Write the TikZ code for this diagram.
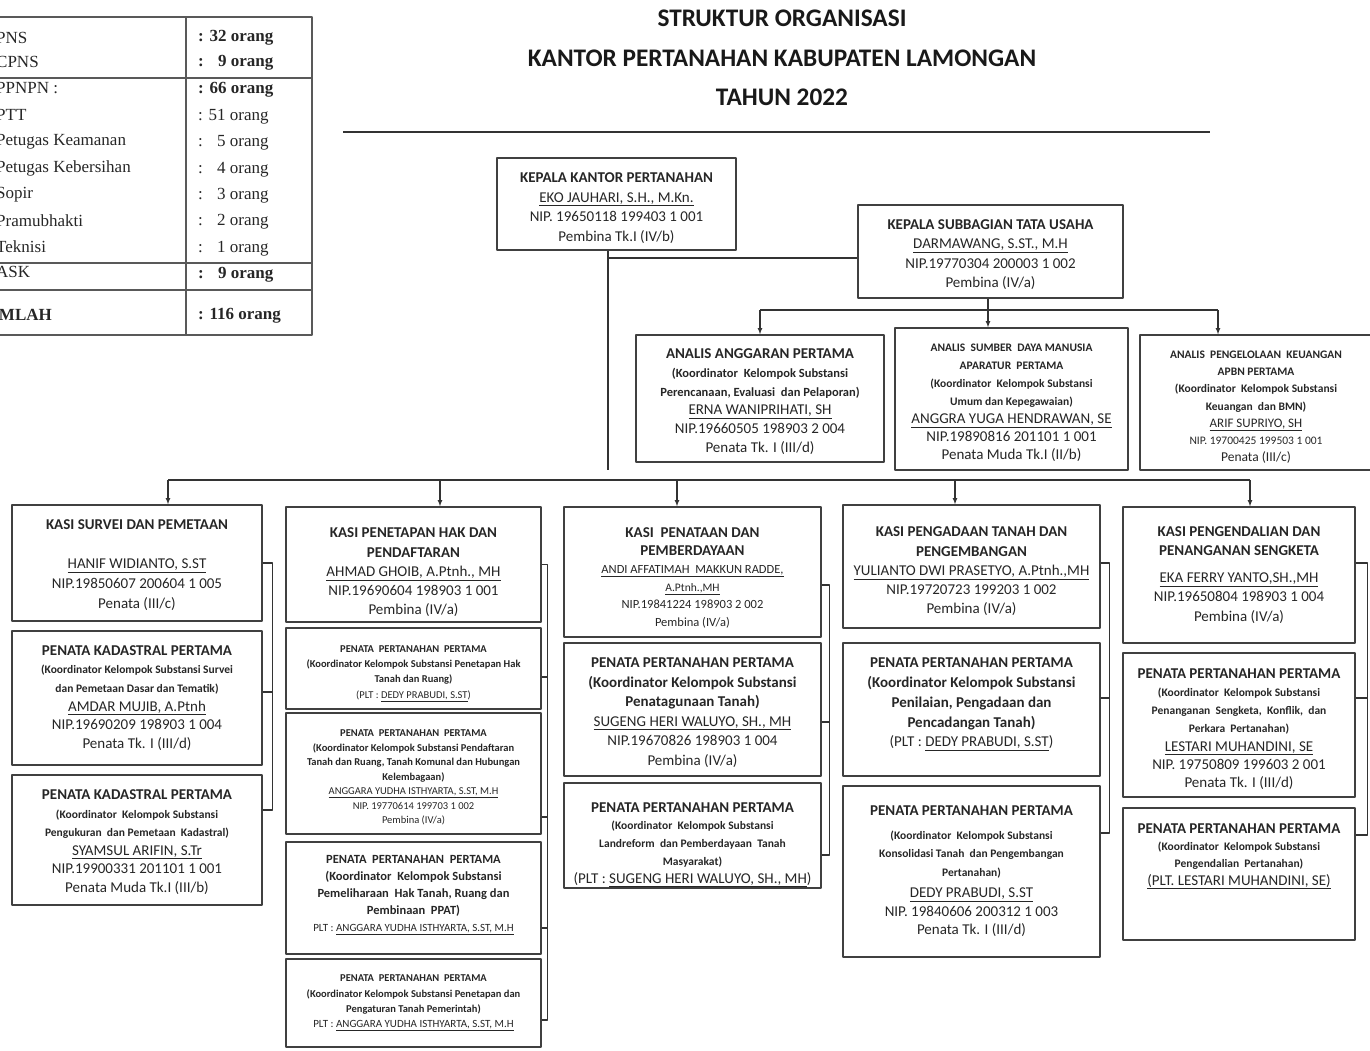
\documentclass[tikz,border=0pt]{standalone}
\usepackage{fontspec}
\setmainfont{Carlito}
\newfontfamily\fonttabel{Liberation Serif}
\newcommand{\kecil}[1]{{\fontsize{12.5}{16}\selectfont\bfseries #1}}
\newcommand{\renik}[1]{{\fontsize{11.5}{14}\selectfont\bfseries #1}}
\newcommand{\turun}[1]{\rule{0pt}{#1}}
\begin{document}
\begin{tikzpicture}[x=1pt,y=-1pt,line join=round,
	kotak/.style={draw=black!75,line width=1.4pt,align=center,inner sep=1pt,text=black!85,font=\fontsize{15}{19.5}\selectfont},
	uk/.style 2 args={minimum width=#1,minimum height=#2},
	garis/.style={black!80,line width=1.1pt},
	panah/.style={garis,-latex},
	sel/.style={anchor=west,inner sep=0pt,text=black!85,font=\fonttabel\fontsize{17}{17}\selectfont}]
	\useasboundingbox (0,0) rectangle (1370,1050);
	\clip (0,0) rectangle (1370,1050);
	
	% tabel jumlah pegawai
	\draw[black!65,line width=1.2pt] (-10,17) rectangle (312,335);
	\draw[black!65,line width=1.2pt] (186,17) -- (186,335);
	\foreach \y in {78,263,290}
	\draw[black!65,line width=1.2pt] (-10,\y) -- (312,\y);
	\foreach \t/\y [count=\i] in {PNS/38,CPNS/62,PPNPN :/88,PTT/115,Petugas Keamanan/142,Petugas Kebersihan/168,Sopir/195,Pramubhakti/221,Teknisi/247,ASK/272}{
		\node[sel] (lbl\i) at (-4,\y) {\t};
	}
	\node[sel,font=\fonttabel\bfseries\fontsize{17}{17}\selectfont] (lbl11) at (-22,315) {JUMLAH};
	\foreach \t/\y/\f [count=\i] in {32 orang/38/\bfseries,\hphantom{3}9 orang/63/\bfseries,66 orang/90/\bfseries,51 orang/117/\mdseries,\hphantom{3}5 orang/143/\mdseries,\hphantom{3}4 orang/170/\mdseries,\hphantom{3}3 orang/196/\mdseries,\hphantom{3}2 orang/222/\mdseries,\hphantom{3}1 orang/249/\mdseries,\hphantom{3}9 orang/275/\bfseries,116 orang/316/\bfseries}{
		\node[sel] (jml\i) at (198,\y) {\f : \t};
	}
	
	% judul
	\node[font=\bfseries\fontsize{25.3}{39.5}\selectfont,align=center,text=black!90] (judul) at (782,58) {STRUKTUR ORGANISASI\\KANTOR PERTANAHAN KABUPATEN LAMONGAN\\TAHUN 2022};
	\draw[black!80,line width=2pt] (343,132) -- (1210,132);
	
	% pimpinan
	\node[kotak,uk={239}{92}] (kakan) at (616.5,204) {\turun{18pt}\textbf{KEPALA KANTOR PERTANAHAN}\\\underline{EKO JAUHARI, S.H., M.Kn.}\\NIP. 19650118 199403 1 001\\Pembina Tk.I (IV/b)};
	\node[kotak,uk={265}{93}] (kasubag) at (990.5,251.5) {\turun{16pt}\textbf{KEPALA SUBBAGIAN TATA USAHA}\\\underline{DARMAWANG, S.ST., M.H}\\NIP.19770304 200003 1 002\\Pembina (IV/a)};
	
	% analis
	\node[kotak,uk={248}{127},font=\fontsize{15}{18.8}\selectfont] (ang) at (760,398.5) {\turun{16pt}\textbf{ANALIS ANGGARAN PERTAMA}\\\kecil{(Koordinator\ \ Kelompok Substansi}\\\kecil{Perencanaan, Evaluasi\ \ dan Pelaporan)}\\\underline{ERNA WANIPRIHATI, SH}\\NIP.19660505 198903 2 004\\Penata Tk. I (III/d)};
	\node[kotak,uk={233}{142},font=\fontsize{15}{18}\selectfont] (sdm) at (1011.5,399) {\renik{\turun{15pt}ANALIS\ \ SUMBER\ \ DAYA MANUSIA}\\\renik{APARATUR\ \ PERTAMA}\\\renik{(Koordinator\ \ Kelompok Substansi}\\\renik{Umum dan Kepegawaian)}\\\underline{ANGGRA YUGA HENDRAWAN, SE}\\NIP.19890816 201101 1 001\\Penata Muda Tk.I (II/b)};
	\node[kotak,uk={232}{135},font=\fontsize{13.5}{17.2}\selectfont] (apbn) at (1256,402.5) {\renik{\turun{17pt}ANALIS\ \ PENGELOLAAN\ \ KEUANGAN}\\\renik{APBN PERTAMA}\\\renik{(Koordinator\ \ Kelompok Substansi}\\\renik{Keuangan\ \ dan BMN)}\\{\fontsize{13}{14}\selectfont\underline{ARIF SUPRIYO, SH}}\\{\fontsize{11.5}{12}\selectfont NIP. 19700425 199503 1 001}\\Penata (III/c)};
	
	% kolom survei
	\node[kotak,uk={250}{116},font=\fontsize{15}{19.75}\selectfont] (survei) at (137,563) {\turun{14pt}\textbf{KASI SURVEI DAN PEMETAAN}\\[19.75pt]\underline{HANIF WIDIANTO, S.ST}\\NIP.19850607 200604 1 005\\Penata (III/c)};
	\node[kotak,uk={250}{134},font=\fontsize{15}{18.6}\selectfont] (kadas1) at (137,698) {\textbf{PENATA KADASTRAL PERTAMA}\\\renik{(Koordinator Kelompok Substansi Survei}\\\renik{dan Pemetaan Dasar dan Tematik)}\\\underline{AMDAR MUJIB, A.Ptnh}\\NIP.19690209 198903 1 004\\Penata Tk. I (III/d)};
	\node[kotak,uk={250}{130},font=\fontsize{15}{18.6}\selectfont] (kadas2) at (137,840) {\turun{14pt}\textbf{PENATA KADASTRAL PERTAMA}\\\renik{(Koordinator\ \ Kelompok Substansi}\\\renik{Pengukuran\ \ dan Pemetaan\ \ Kadastral)}\\\underline{SYAMSUL ARIFIN, S.Tr}\\NIP.19900331 201101 1 001\\Penata Muda Tk.I (III/b)};
	
	% kolom penetapan hak
	\node[kotak,uk={255}{115},font=\fontsize{15}{19.25}\selectfont] (hak) at (413.5,564.5) {\turun{26pt}\textbf{KASI PENETAPAN HAK DAN}\\\textbf{PENDAFTARAN}\\\underline{AHMAD GHOIB, A.Ptnh., MH}\\NIP.19690604 198903 1 001\\Pembina (IV/a)};
	\node[kotak,uk={255}{81},font=\fontsize{10.5}{15.3}\selectfont] (hak1) at (413.5,668.5) {\turun{17pt}\textbf{PENATA\ \ PERTANAHAN\ \ PERTAMA}\\\textbf{(Koordinator Kelompok Substansi Penetapan Hak}\\\textbf{Tanah dan Ruang)}\\(PLT : \underline{DEDY PRABUDI, S.ST})};
	\node[kotak,uk={255}{121},font=\fontsize{10.5}{14.5}\selectfont] (daftar) at (413.5,773.5) {\turun{15pt}\textbf{PENATA\ \ PERTANAHAN\ \ PERTAMA}\\\textbf{(Koordinator Kelompok Substansi Pendaftaran}\\\textbf{Tanah dan Ruang, Tanah Komunal dan Hubungan}\\\textbf{Kelembagaan)}\\\underline{ANGGARA YUDHA ISTHYARTA, S.ST, M.H}\\NIP. 19770614 199703 1 002\\Pembina (IV/a)};
	\node[kotak,uk={255}{112},font=\fontsize{12.5}{17}\selectfont,text depth=9pt] (pelihara) at (413.5,898) {\textbf{PENATA\ \ PERTANAHAN\ \ PERTAMA}\\\textbf{(Koordinator\ \ Kelompok Substansi}\\\textbf{Pemeliharaan\ \ Hak Tanah, Ruang dan}\\\textbf{Pembinaan\ \ PPAT)}\\{\fontsize{11}{12}\selectfont PLT : \underline{ANGGARA YUDHA ISTHYARTA, S.ST, M.H}}};
	\node[kotak,uk={255}{88},font=\fontsize{10.5}{15.3}\selectfont] (pemerintah) at (413.5,1003) {\textbf{PENATA\ \ PERTANAHAN\ \ PERTAMA}\\\textbf{(Koordinator Kelompok Substansi Penetapan dan}\\\textbf{Pengaturan Tanah Pemerintah)}\\{\fontsize{11}{12}\selectfont PLT : \underline{ANGGARA YUDHA ISTHYARTA, S.ST, M.H}}};
	
	% kolom penataan
	\node[kotak,uk={257}{130},font=\fontsize{15}{17.8}\selectfont] (tata) at (692.5,572) {\turun{22pt}\textbf{KASI\ \ PENATAAN DAN}\\\textbf{PEMBERDAYAAN}\\{\fontsize{12.5}{12}\selectfont\underline{ANDI AFFATIMAH\ \ MAKKUN RADDE,}}\\{\fontsize{11.5}{12}\selectfont\underline{A.Ptnh.,MH}}\\{\fontsize{12.5}{12}\selectfont NIP.19841224 198903 2 002}\\{\fontsize{12.5}{12}\selectfont Pembina (IV/a)}};
	\node[kotak,uk={257}{133},font=\fontsize{15}{19.6}\selectfont] (guna) at (692.5,709.5) {\turun{16pt}\textbf{PENATA PERTANAHAN PERTAMA}\\\textbf{(Koordinator Kelompok Substansi}\\\textbf{Penatagunaan Tanah)}\\\underline{SUGENG HERI WALUYO, SH., MH}\\NIP.19670826 198903 1 004\\Pembina (IV/a)};
	\node[kotak,uk={257}{99},font=\fontsize{11.5}{17.75}\selectfont] (landreform) at (692.5,835.5) {{\fontsize{15}{14}\selectfont\turun{28pt}\textbf{PENATA PERTANAHAN PERTAMA}}\\\textbf{(Koordinator\ \ Kelompok Substansi}\\\textbf{Landreform\ \ dan Pemberdayaan\ \ Tanah}\\\textbf{Masyarakat)}\\{\fontsize{15}{14}\selectfont(PLT : \underline{SUGENG HERI WALUYO, SH., MH})}};
	
	% kolom pengadaan
	\node[kotak,uk={257}{123},font=\fontsize{15}{19.25}\selectfont] (adaan) at (971.5,566.5) {\turun{20pt}\textbf{KASI PENGADAAN TANAH DAN}\\\textbf{PENGEMBANGAN}\\\underline{YULIANTO DWI PRASETYO, A.Ptnh.,MH}\\NIP.19720723 199203 1 002\\Pembina (IV/a)};
	\node[kotak,uk={257}{133},font=\fontsize{15}{19.75}\selectfont,text depth=14pt] (nilai) at (971.5,709.5) {\textbf{PENATA PERTANAHAN PERTAMA}\\\textbf{(Koordinator Kelompok Substansi}\\\textbf{Penilaian, Pengadaan dan}\\\textbf{Pencadangan Tanah)}\\(PLT : \underline{DEDY PRABUDI, S.ST})};
	\node[kotak,uk={257}{171},font=\fontsize{15}{18.5}\selectfont] (konsolidasi) at (971.5,871.5) {\textbf{PENATA PERTANAHAN PERTAMA}\\[5pt]\renik{(Koordinator\ \ Kelompok Substansi}\\\renik{Konsolidasi Tanah\ \ dan Pengembangan}\\\renik{Pertanahan)}\\[3pt]\underline{DEDY PRABUDI, S.ST}\\NIP. 19840606 200312 1 003\\Penata Tk. I (III/d)};
	
	% kolom pengendalian
	\node[kotak,uk={232}{136},font=\fontsize{15}{19.5}\selectfont] (sengketa) at (1239,575) {\textbf{KASI PENGENDALIAN DAN}\\\textbf{PENANGANAN SENGKETA}\\[7pt]\underline{EKA FERRY YANTO,SH.,MH}\\NIP.19650804 198903 1 004\\Pembina (IV/a)};
	\node[kotak,uk={232}{144},font=\fontsize{15}{18.3}\selectfont] (konflik) at (1239,725) {\turun{18pt}\textbf{PENATA PERTANAHAN PERTAMA}\\\renik{(Koordinator\ \ Kelompok Substansi}\\\renik{Penanganan\ \ Sengketa,\ \ Konflik,\ \ dan}\\\renik{Perkara\ \ Pertanahan)}\\\underline{LESTARI MUHANDINI, SE}\\NIP. 19750809 199603 2 001\\Penata Tk. I (III/d)};
	\node[kotak,uk={232}{132},font=\fontsize{15}{17.3}\selectfont] (kendali) at (1239,874) {\textbf{PENATA PERTANAHAN PERTAMA}\\\renik{(Koordinator\ \ Kelompok Substansi}\\\renik{Pengendalian\ \ Pertanahan)}\\\underline{(PLT. LESTARI MUHANDINI, SE)}\\[22pt]\mbox{}};
	
	% garis komando
	\coordinate (ujung) at (608,470);
	\coordinate (bus2) at (0,310);
	\coordinate (bus) at (0,480);
	\draw[garis] ([xshift=-8.5]kakan.south) -- (ujung);
	\draw[garis] ([yshift=-6.5]kasubag.west) -- ([yshift=-6.5]kasubag.west -| ujung);
	\draw[garis] ([xshift=-2.5]kasubag.south) -- ([xshift=-2.5]kasubag.south |- bus2);
	\draw[garis] (ang.north |- bus2) -- ([xshift=-38]apbn.north |- bus2);
	\foreach \n/\dx in {ang/0,sdm/-23.5,apbn/-38}
	\draw[panah] ([xshift=\dx]\n.north |- bus2) -- ([xshift=\dx]\n.north);
	
	\draw[garis] ([xshift=31]survei.north |- bus) -- ([xshift=11]sengketa.north |- bus);
	\foreach \n/\dx in {survei/31,hak/26.5,tata/-15.5,adaan/-16.5,sengketa/11}
	\draw[panah] ([xshift=\dx]\n.north |- bus) -- ([xshift=\dx]\n.north);
	
	% kurung samping tiap kolom
	\foreach \atas/\bawah/\ya/\yb/\jarak in {survei/kadas2/0/30/10,hak/pemerintah/0/-17/6,tata/landreform/-13/-19.5/8,adaan/konsolidasi/3.5/38.5/9,sengketa/kendali/12/39/12}
	\draw[garis] ([yshift=\ya]\atas.east) -- ++(\jarak,0) |- ([yshift=\yb]\bawah.east);
	\foreach \n/\dy/\jarak in {kadas1/6/10,hak1/-8.5/6,daftar/-43.5/6,pelihara/-30/6,guna/-12.5/8,nilai/11.5/9,konflik/27/12}
	\draw[garis] ([yshift=\dy]\n.east) -- ++(\jarak,0);
\end{tikzpicture}
\end{document}
